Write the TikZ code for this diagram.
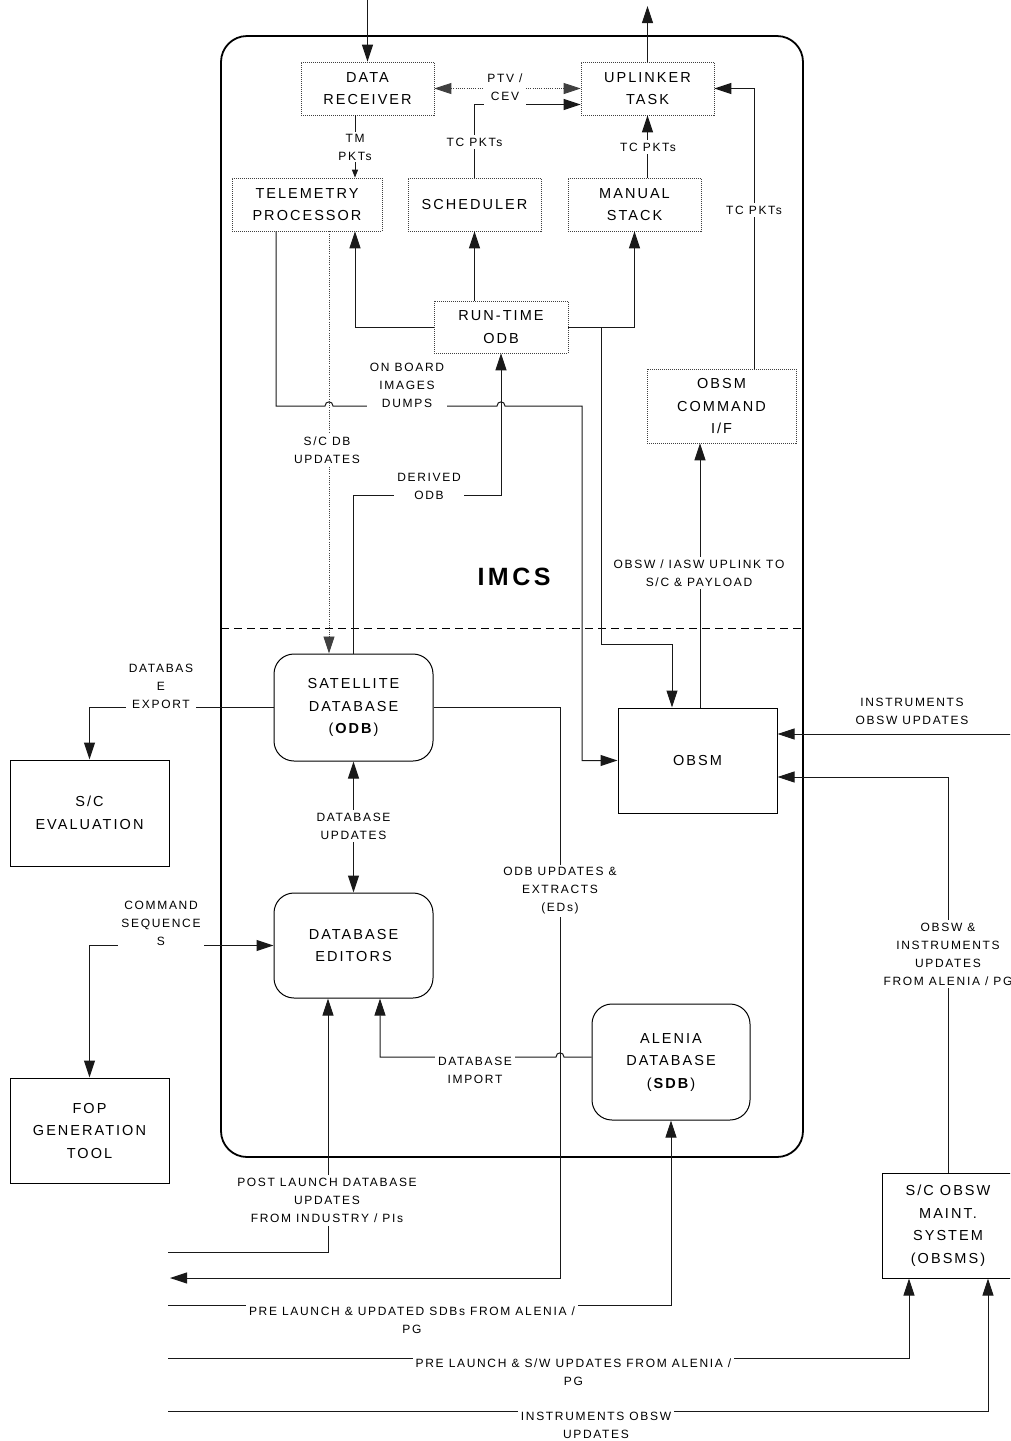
\documentclass[tikz,border=0pt]{standalone}
\usepackage{fontspec}
\setmainfont{Liberation Sans}[LetterSpace=14]
\usetikzlibrary{arrows.meta,calc}

\begin{document}
\begin{tikzpicture}[x=1pt,y=-1pt,
  conn/.style={draw=black!90, line width=1pt},
  dotconn/.style={draw=black!75, line width=0.8pt, dash pattern=on 1pt off 1.2pt},
  tip/.style={-{Triangle[length=17pt,width=11pt]}},
  smalltip/.style={-{Triangle[length=8pt,width=6pt]}},
  bothtips/.style={{Triangle[length=17pt,width=11pt]}-{Triangle[length=17pt,width=11pt]}},
  boxtxt/.style={font=\fontsize{14.5}{22.5}\selectfont, align=center, inner sep=0pt},
  dotbox/.style={boxtxt, draw=black!75, line width=0.7pt, dash pattern=on 1pt off 1pt},
  plainbox/.style={boxtxt, draw, line width=1pt},
  roundbox/.style={boxtxt, draw, line width=1pt, rounded corners=20pt},
  lbl/.style={font=\fontsize{12}{18}\selectfont, align=center, fill=white, inner sep=3pt}
]
\useasboundingbox (0,0) rectangle (1010,1441);
\clip (0,0) rectangle (1010,1441);

% ---------- IMCS frame ----------
\draw[line width=1.8pt, rounded corners=26pt] (221,36) rectangle (803,1157);
\draw[line width=0.9pt, dash pattern=on 8pt off 5pt] (221,628) -- (803,628);
\node[font=\bfseries\fontsize{25}{28}\selectfont] (imcs) at (514,577) {IMCS};

% ---------- processing tasks ----------
\node[dotbox, minimum width=133pt, minimum height=53pt] (dr)  at (367.5,88.5) {DATA\\RECEIVER};
\node[dotbox, minimum width=133pt, minimum height=53pt] (up)  at (647.5,88.5) {UPLINKER\\TASK};
\node[dotbox, minimum width=150pt, minimum height=53pt] (tp)  at (307,204.5) {TELEMETRY\\PROCESSOR};
\node[dotbox, minimum width=133pt, minimum height=53pt] (sch) at (474.5,204.5) {SCHEDULER};
\node[dotbox, minimum width=133pt, minimum height=53pt] (ms)  at (634.5,204.5) {MANUAL\\STACK};
\node[dotbox, minimum width=134pt, minimum height=52pt] (rt)  at (501,327) {RUN-TIME\\ODB};
\node[dotbox, minimum width=149pt, minimum height=74pt] (oc)  at (721.5,406) {OBSM\\COMMAND\\I/F};

% ---------- databases and external systems ----------
\node[roundbox, minimum width=159pt, minimum height=107pt] (sat) at (353.5,707.5) {SATELLITE\\DATABASE\\(\textbf{ODB})};
\node[roundbox, minimum width=159pt, minimum height=105pt] (ed)  at (353.5,945.5) {DATABASE\\EDITORS};
\node[roundbox, minimum width=158pt, minimum height=116pt] (al)  at (671,1062) {ALENIA\\DATABASE\\(\textbf{SDB})};
\node[plainbox, minimum width=159pt, minimum height=105pt] (obsm) at (697.5,760.5) {OBSM};
\node[plainbox, minimum width=159pt, minimum height=106pt] (sce)  at (89.5,813) {S/C\\EVALUATION};
\node[plainbox, minimum width=159pt, minimum height=105pt] (fop)  at (89.5,1130.5) {FOP\\GENERATION\\TOOL};
\node[plainbox, minimum width=132pt, minimum height=105pt] (obsms) at (948,1225.5) {S/C OBSW\\MAINT.\\SYSTEM\\(OBSMS)};

% ---------- free connector ends ----------
\coordinate (tin)  at (367.5,0);
\coordinate (tout) at (647.5,6);
\coordinate (rb)   at (601,644);
\coordinate (dv)   at (501,495);
\coordinate (ex)   at (560,1278);
\coordinate (edout) at (170,1278);
\coordinate (pl)   at (168,1252);
\coordinate (pa)   at (168,1305);
\coordinate (pb)   at (168,1358);
\coordinate (pc)   at (168,1411);
\coordinate (iu)   at (1012,734);

% ---------- connectors ----------
\draw[conn,tip] (tin) -- (dr.north);
\draw[conn,tip] (up.north) -- (tout);
\draw[dotconn,bothtips] (dr.east) -- (up.west);
\draw[conn,tip] (sch.north) |- ([yshift=-16pt]up.west);
\draw[conn,smalltip] ([xshift=-12.5pt]dr.south) -- ([xshift=-12.5pt]dr.south |- tp.north);
\draw[conn,tip] (up.south |- ms.north) -- (up.south);
\draw[conn,tip] ([xshift=32.5pt]oc.north) |- (up.east);

\draw[conn,tip] (rt.west) -| ([xshift=48pt]tp.south);
\draw[conn,tip] (sch.south |- rt.north) -- (sch.south);
\draw[conn,tip] (rt.east) -| (ms.south);
\draw[conn,tip] (rt.east) -| (rb) -| ([xshift=-25.5pt]obsm.north);
\draw[conn,tip] ([xshift=2.5pt]obsm.north) -- ([xshift=2.5pt]obsm.north |- oc.south);

% on-board image dumps, hopping over the two crossing lines
\draw[conn,tip] ([xshift=-31pt]tp.south) -- (276,406) -- (325,406)
  .. controls (325,400.5) and (333,400.5) .. (333,406) -- (497,406)
  .. controls (497,400.5) and (505,400.5) .. (505,406) -- (582,406) |- (obsm.west);
\draw[dotconn,tip] ([xshift=22pt]tp.south) -- ([xshift=22pt]tp.south |- sat.north);
\draw[conn,tip] (sat.north) |- (dv) -- (rt.south);

\draw[conn,tip] (sat.east) -| (ex) -- (edout);
\draw[conn,tip] (sat.west) -| (sce.north);
\draw[conn,bothtips] (sat.south) -- (ed.north);
\draw[conn,bothtips] (fop.north) |- (ed.west);
\draw[conn,tip] ([yshift=5pt]al.west) -- (564,1057)
  .. controls (564,1051.5) and (556,1051.5) .. (556,1057) -| ([xshift=26.5pt]ed.south);

\draw[conn,tip] (pl) -| ([xshift=-25.5pt]ed.south);
\draw[conn,tip] (pa) -| (al.south);
\draw[conn,tip] (pb) -| ([xshift=-39pt]obsms.south);
\draw[conn,tip] (pc) -| ([xshift=40pt]obsms.south);
\draw[conn,tip] (obsms.north) |- ([yshift=-16.5pt]obsm.east);
\draw[conn,tip] (iu) -- (iu -| obsm.east);

% ---------- connector labels ----------
\node[lbl, inner ysep=6pt] (lptv) at (505,87) {PTV /\\CEV};
\node[lbl, inner ysep=1.5pt] (ltm) at (355,147) {TM\\PKTs};
\node[lbl] (ltc1)  at (474.5,142) {TC PKTs};
\node[lbl] (ltc2)  at (648,147) {TC PKTs};
\node[lbl] (ltc3)  at (754,210) {TC PKTs};
\node[lbl] (lobid) at (407,385) {ON BOARD\\IMAGES\\DUMPS};
\node[lbl] (lscdb) at (327,450.5) {S/C DB\\UPDATES};
\node[lbl] (lder)  at (429,486) {DERIVED\\ODB};
\node[lbl] (lupl)  at (699,573) {OBSW / IASW UPLINK TO\\S/C \& PAYLOAD};
\node[lbl] (lexp)  at (161,686) {DATABAS\\E\\EXPORT};
\node[lbl, fill=none] (lins) at (912,711) {INSTRUMENTS\\OBSW UPDATES};
\node[lbl] (ldbu)  at (353.5,826) {DATABASE\\UPDATES};
\node[lbl] (lodbu) at (560,891) {ODB UPDATES \&\\EXTRACTS\\(EDs)};
\node[lbl] (lcmd)  at (161,923) {COMMAND\\SEQUENCE\\S};
\node[lbl] (lobsw) at (948,954) {OBSW \&\\INSTRUMENTS\\UPDATES\\FROM ALENIA / PG};
\node[lbl, inner ysep=4pt] (limp) at (475,1070.5) {DATABASE\\IMPORT};
\node[lbl] (lpost) at (327,1200.5) {POST LAUNCH DATABASE\\UPDATES\\FROM INDUSTRY / PIs};
\node[lbl, inner ysep=5pt] (lpre1) at (412,1320) {PRE LAUNCH \& UPDATED SDBs FROM ALENIA /\\PG};
\node[lbl, inner ysep=5pt] (lpre2) at (573.5,1372.5) {PRE LAUNCH \& S/W UPDATES FROM ALENIA /\\PG};
\node[lbl, inner ysep=5pt] (linst2) at (596,1425.5) {INSTRUMENTS OBSW\\UPDATES};
\end{tikzpicture}
\end{document}
